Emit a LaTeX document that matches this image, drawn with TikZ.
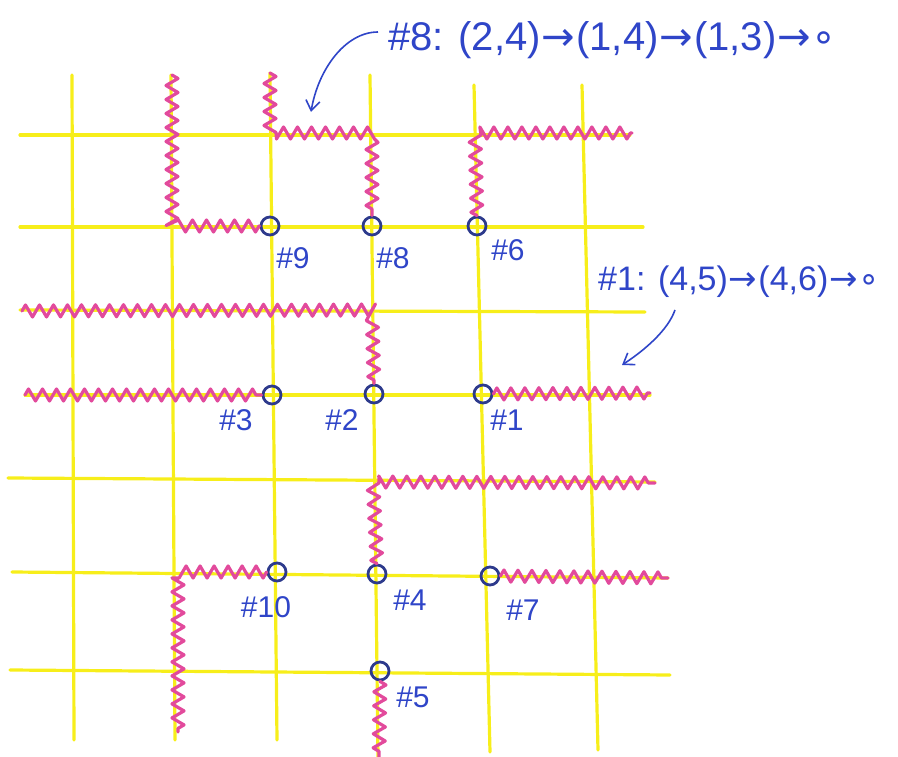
\documentclass[tikz,border=0pt]{standalone}
\usepackage{fontspec}
\setmainfont{Liberation Sans}
\newfontfamily\symf{DejaVu Sans}
\usetikzlibrary{decorations.pathmorphing,arrows.meta}
\definecolor{yel}{HTML}{F7EE1A}
\definecolor{pnk}{HTML}{E24A9C}
\definecolor{blu}{HTML}{2F45C8}
\definecolor{navy}{HTML}{2D3A8C}
\newcommand\myarr{{\symf\kern1pt→\kern1pt}}
\newcommand\mydot{{\symf ∘}}
\begin{document}
\begin{tikzpicture}[x=1pt,y=-1pt,
  grid/.style={yel,line width=3.2pt,line cap=round},
  wall/.style={pnk,line width=3.2pt,line cap=round,line join=round,decorate,decoration={zigzag,segment length=14pt,amplitude=6pt}},
  ring/.style={circle,draw=navy,line width=2.8pt,minimum size=18pt,inner sep=0pt},
  lab/.style={blu,font=\fontsize{30}{30}\selectfont},
  note/.style={blu,anchor=west,inner sep=0pt},
  ptr/.style={blu,line width=1.6pt,-{Straight Barb[length=10pt,width=14pt]}}]
\useasboundingbox (0,0) rectangle (898,757);
% yellow grid
\draw[grid] (72,75) -- (74,740);
\draw[grid] (171,75) -- (175,740);
\draw[grid] (270,73) -- (277,740);
\draw[grid] (370,75) -- (378,757);
\draw[grid] (474,85) -- (490,752);
\draw[grid] (582,85) -- (598,750);
\draw[grid] (20,135) -- (630,135);
\draw[grid] (20,227) -- (643,227);
\draw[grid] (20,310) -- (645,312);
\draw[grid] (25,395) -- (650,395);
\draw[grid] (8,478) -- (655,482);
\draw[grid] (12,572) -- (668,578);
\draw[grid] (10,670) -- (670,675);
% rings
\node[ring] (c9) at (270,226) {};
\node[ring] (c8) at (372,226) {};
\node[ring] (c6) at (477,226) {};
\node[ring] (c3) at (272,395) {};
\node[ring] (c2) at (374,394) {};
\node[ring] (c1) at (483,394) {};
\node[ring] (c10) at (277,572) {};
\node[ring] (c4) at (377,574) {};
\node[ring] (c7) at (490,576) {};
\node[ring] (c5) at (380,671) {};
% labels
\node[lab] (l9) at (293,258) {\#9};
\node[lab] (l8) at (393,258) {\#8};
\node[lab] (l6) at (508,250) {\#6};
\node[lab] (l3) at (236,420) {\#3};
\node[lab] (l2) at (342,420) {\#2};
\node[lab] (l1) at (507,420) {\#1};
\node[lab] (l10) at (266,607) {\#10};
\node[lab] (l4) at (410,600) {\#4};
\node[lab] (l7) at (523,610) {\#7};
\node[lab] (l5) at (413,697) {\#5};
% pink walls
\coordinate (a1) at (172,75); \coordinate (a2) at (172,226);
\draw[wall] (a1) -- (a2) -- (c9.west);
\coordinate (b1) at (270,73); \coordinate (b2) at (270,133); \coordinate (b3) at (372,133);
\draw[wall] (b1) -- (b2) -- (b3) -- (c8.north);
\coordinate (d1) at (475,133); \coordinate (d2) at (632,133);
\draw[wall] (c6.north) -- (d1) -- (d2);
\coordinate (e1) at (22,311); \coordinate (e2) at (372,310);
\draw[wall] (e1) -- (e2) -- (c2.north);
\coordinate (f1) at (25,395);
\draw[wall] (f1) -- (c3.west);
\coordinate (g1) at (650,393);
\draw[wall] (c1.east) -- (g1);
\coordinate (h1) at (373,482); \coordinate (h2) at (655,483);
\draw[wall] (c4.north) -- (h1) -- (h2);
\coordinate (k1) at (178,572); \coordinate (k2) at (178,732);
\draw[wall] (c10.west) -- (k1) -- (k2);
\coordinate (m1) at (668,578);
\draw[wall] (c7.east) -- (m1);
\coordinate (n1) at (379,757);
\draw[wall] (c5.south) -- (n1);
% notes
\node[note,font=\fontsize{40}{40}\selectfont] (t8) at (388,40) {\#8: (2,4)\myarr(1,4)\myarr(1,3)\myarr\mydot};
\node[note,font=\fontsize{34}{34}\selectfont] (t1) at (598,282) {\#1: (4,5)\myarr(4,6)\myarr\mydot};
\coordinate (p8) at (311,112);
\draw[ptr] ([shift={(-10,-8)}]t8.west) .. controls (345,32) and (318,70) .. (p8);
\coordinate (p1) at (622,365);
\draw[ptr] ([shift={(77,28)}]t1.west) .. controls (668,330) and (645,350) .. (p1);
\end{tikzpicture}
\end{document}
